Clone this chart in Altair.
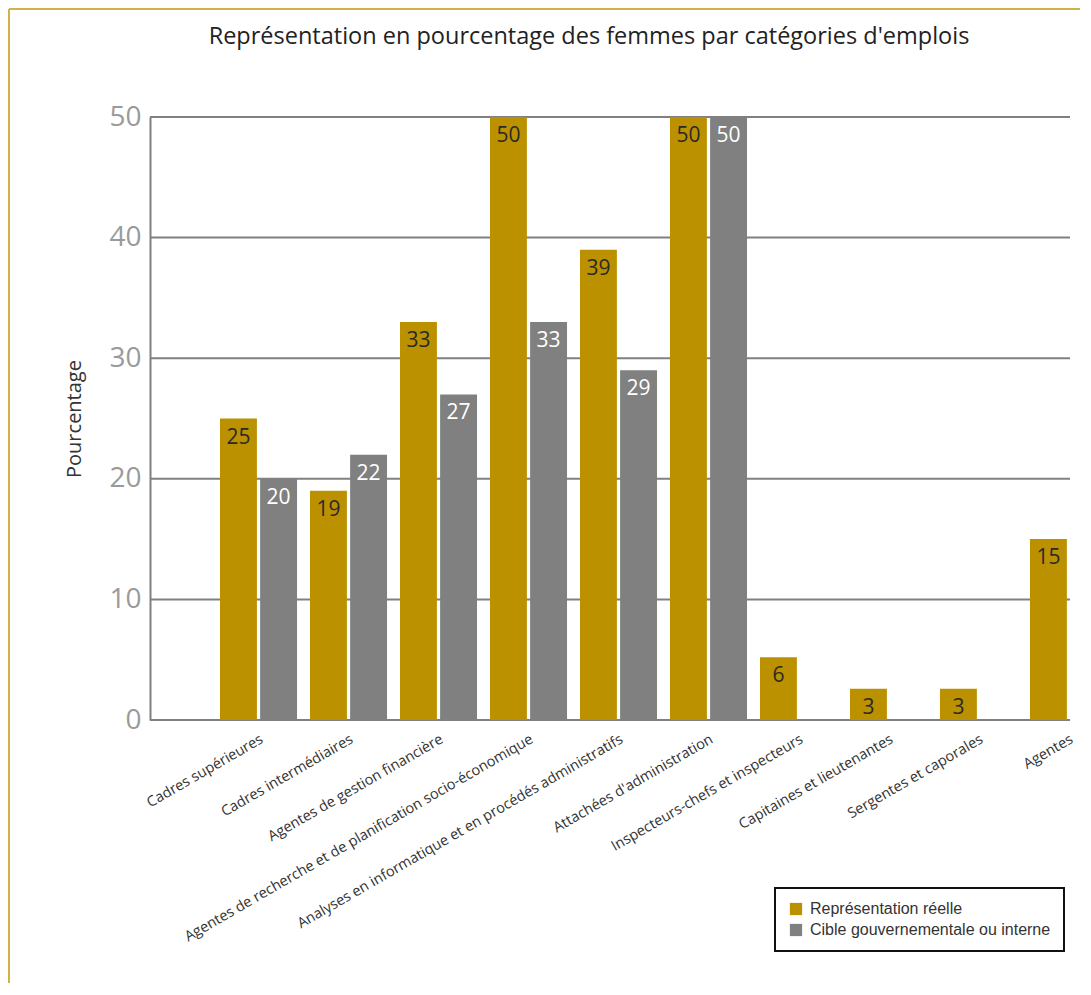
import altair as alt
import pandas as pd

categories = [
    "Cadres supérieures",
    "Cadres intermédiaires",
    "Agentes de gestion financière",
    "Agentes de recherche et de planification socio-économique",
    "Analyses en informatique et en procédés administratifs",
    "Attachées d'administration",
    "Inspecteurs-chefs et inspecteurs",
    "Capitaines et lieutenantes",
    "Sergentes et caporales",
    "Agentes",
]
series_names = ["Représentation réelle", "Cible gouvernementale ou interne"]

real_values = [25, 19, 33, 50, 39, 50, 5.2, 2.6, 2.6, 15]
real_labels = ["25", "19", "33", "50", "39", "50", "6", "3", "3", "15"]
target_values = [20, 22, 27, 33, 29, 50]
target_labels = ["20", "22", "27", "33", "29", "50"]
y_ticks = [0, 10, 20, 30, 40, 50]

rows = []
for c, v, l in zip(categories, real_values, real_labels):
    rows.append({"cat": c, "serie": series_names[0], "val": v, "lab": l})
for c, v, l in zip(categories, target_values, target_labels):
    rows.append({"cat": c, "serie": series_names[1], "val": v, "lab": l})
df = pd.DataFrame(rows)
grid_df = pd.DataFrame({"tick": y_ticks})

GOLD = "#BC9100"
GREY = "#808080"
W, H = 920, 603

x_enc = alt.X(
    "cat:N",
    sort=categories,
    title=None,
    scale=alt.Scale(domain=categories, range=[70, 957], paddingInner=0.144, paddingOuter=0),
    axis=alt.Axis(
        labelAngle=-30,
        labelFont="Open Sans",
        labelFontSize=14.5,
        labelColor="#333333",
        labelPadding=12,
        labelLimit=600,
        ticks=False,
        domain=False,
        grid=False,
    ),
)
xo_enc = alt.XOffset(
    "serie:N",
    sort=series_names,
    scale=alt.Scale(domain=series_names, paddingInner=0.08),
)
y_enc = alt.Y(
    "val:Q",
    title="Pourcentage",
    scale=alt.Scale(domain=[0, 50], nice=False),
    axis=alt.Axis(
        values=y_ticks,
        labelFont="Open Sans",
        labelFontSize=28,
        labelColor="#9A9A9A",
        labelPadding=9,
        ticks=False,
        domain=True,
        domainColor=GREY,
        domainWidth=2,
        grid=False,
        titleFont="Open Sans",
        titleFontSize=20,
        titleFontWeight="normal",
        titleColor="#333333",
        titlePadding=24,
    ),
)

grid = alt.Chart(grid_df).mark_rule(color=GREY, strokeWidth=2).encode(
    y=alt.Y("tick:Q"),
    x=alt.value(0),
    x2=alt.value(W),
)

bars = alt.Chart(df).mark_bar().encode(
    x=x_enc,
    xOffset=xo_enc,
    y=y_enc,
    color=alt.Color(
        "serie:N",
        sort=series_names,
        scale=alt.Scale(domain=series_names, range=[GOLD, GREY]),
        legend=alt.Legend(
            title=None,
            orient="none",
            legendX=625,
            legendY=771,
            symbolType="square",
            symbolSize=150,
            symbolStrokeWidth=0,
            labelFont="Liberation Sans",
            labelFontSize=16,
            labelColor="#333333",
            labelLimit=400,
            rowPadding=5,
            padding=13,
            strokeColor="#111111",
            fillColor="white",
            labelOffset=6,
        ),
    ),
)

texts = alt.Chart(df).mark_text(
    font="Open Sans", fontSize=21, baseline="middle", dy=19
).encode(
    x=alt.X("cat:N", sort=categories),
    xOffset=alt.XOffset("serie:N", sort=series_names),
    y=alt.Y("val:Q"),
    text="lab:N",
    color=alt.Color(
        "serie:N",
        scale=alt.Scale(domain=series_names, range=["#2a2a2a", "#ffffff"]),
        legend=None,
    ),
)

frame_top = alt.Chart(grid_df).mark_rule(color="#D2B04C", strokeWidth=2).encode(
    x=alt.value(-141), x2=alt.value(930), y=alt.value(-108)
)
frame_left = alt.Chart(grid_df).mark_rule(color="#D2B04C", strokeWidth=2).encode(
    x=alt.value(-141), y=alt.value(-108), y2=alt.value(866)
)

chart = (
    alt.layer(frame_top, frame_left, grid, bars, texts)
    .resolve_scale(color="independent")
    .properties(
        width=W,
        height=H,
        title=alt.TitleParams(
            "Représentation en pourcentage des femmes par catégories d'emplois",
            font="Open Sans",
            fontSize=23.5,
            fontWeight=500,
            color="#222222",
            anchor="middle",
            offset=-40,
            dx=-21,
        ),
        padding={"left": 0, "top": 0, "right": 0, "bottom": 0},
    )
    .configure_view(stroke=None)
    .configure_legend(strokeWidth=2)
)

chart.save("out.html", embed_options={"renderer": "svg", "actions": False})
